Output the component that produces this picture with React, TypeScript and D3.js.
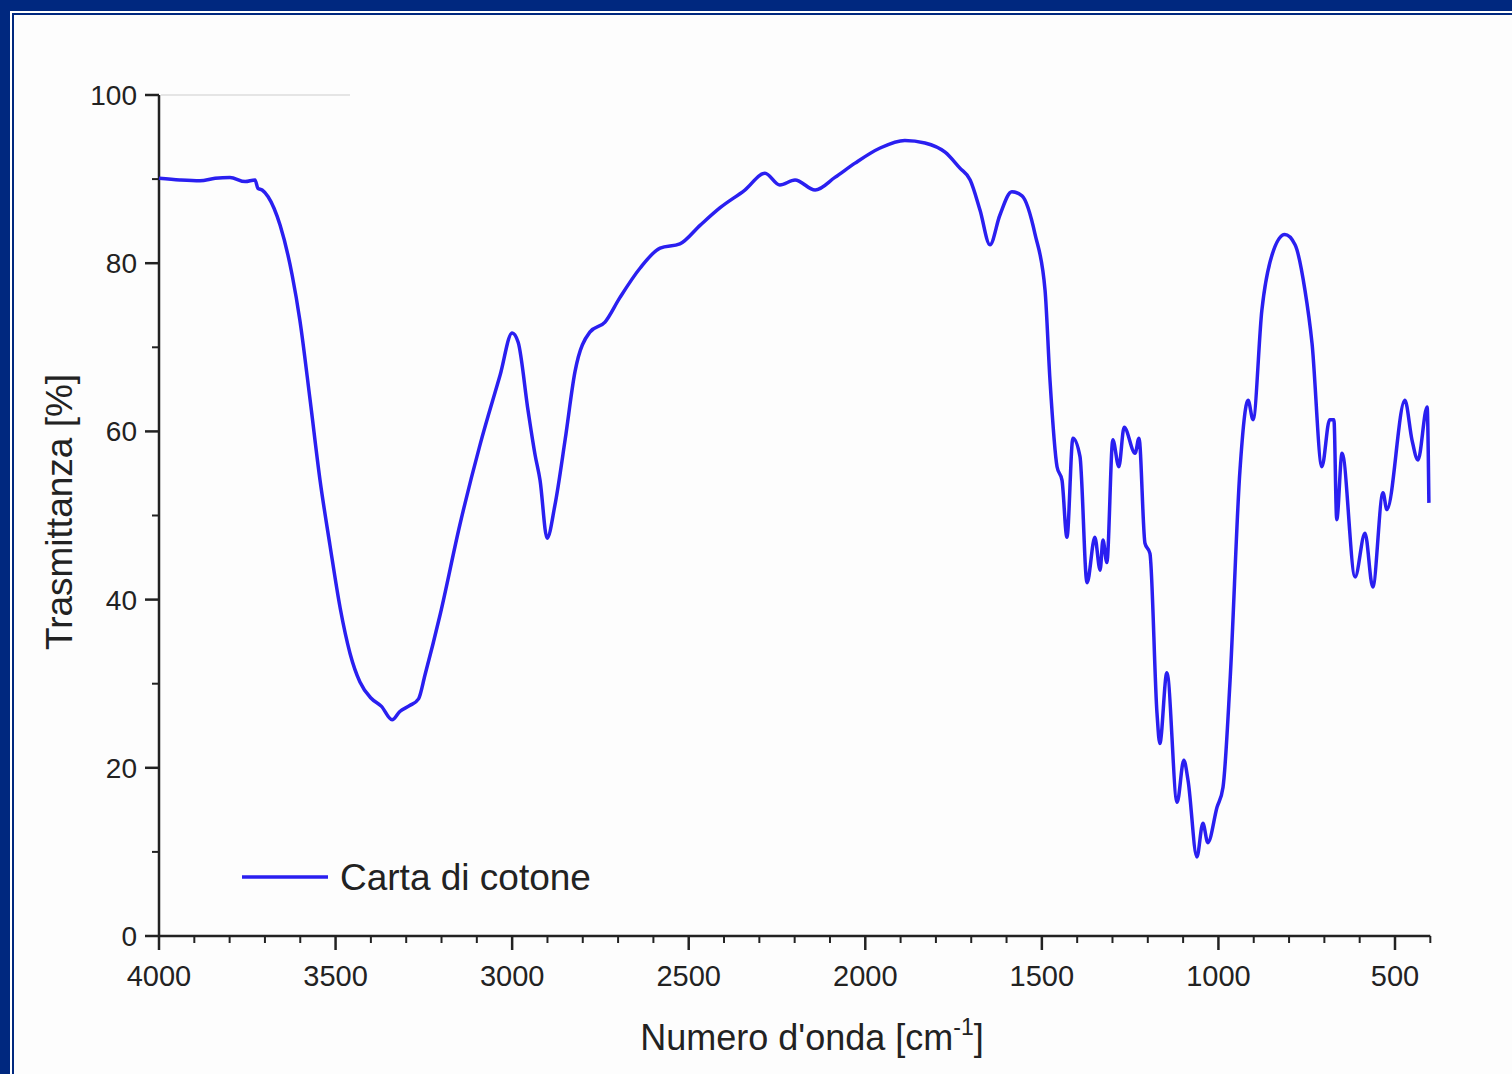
import React from 'react';
import * as d3 from 'd3';

// wavenumber (cm-1) and transmittance (%)
const waveNumbers = [
  4000, 3941, 3884, 3841, 3799, 3756, 3728, 3720, 3708, 3691, 3657, 3623, 3601, 3572, 3544, 3516,
  3487, 3459, 3431, 3400, 3370, 3340, 3318, 3290, 3265, 3247, 3204, 3148, 3091, 3034, 3000, 2983,
  2955, 2935, 2921, 2901, 2879, 2850, 2822, 2780, 2737, 2695, 2638, 2581, 2525, 2468, 2411, 2341,
  2284, 2242, 2199, 2142, 2086, 2029, 1958, 1888, 1831, 1774, 1732, 1703, 1675, 1647, 1619, 1585,
  1556, 1519, 1491, 1477, 1457, 1443, 1429, 1412, 1392, 1372, 1350, 1335, 1327, 1316, 1299, 1282,
  1267, 1236, 1225, 1208, 1194, 1174, 1166, 1146, 1117, 1098, 1086, 1061, 1044, 1030, 1004, 987,
  967, 939, 916, 902, 877, 848, 812, 783, 755, 735, 707, 685, 673, 665, 650, 613,
  585, 563, 534, 523, 472, 452, 435, 409, 404,
];
const transmittance = [
  90.1, 89.9, 89.8, 90.1, 90.2, 89.7, 89.9, 88.9, 88.7, 87.9, 84.5, 78.6, 73.2, 63.7, 54.2, 46.5,
  39.0, 33.6, 30.2, 28.3, 27.3, 25.7, 26.7, 27.4, 28.2, 31.0, 38.2, 48.9, 58.4, 66.7, 71.7, 70.6,
  62.5, 57.2, 54.2, 47.3, 51.2, 59.0, 67.1, 71.8, 73.0, 75.9, 79.4, 81.8, 82.3, 84.5, 86.6, 88.7,
  90.7, 89.3, 89.9, 88.7, 90.2, 91.9, 93.7, 94.6, 94.3, 93.2, 91.3, 89.9, 86.3, 82.2, 85.7, 88.5,
  88.0, 83.4, 76.8, 66.1, 55.8, 54.2, 47.4, 59.2, 57.0, 42.0, 47.4, 43.5, 47.1, 44.4, 59.0, 55.8,
  60.5, 57.4, 59.2, 46.7, 45.5, 26.5, 22.9, 31.3, 15.9, 20.9, 18.5, 9.4, 13.4, 11.1, 15.3, 17.7,
  30.4, 55.4, 63.7, 61.4, 74.4, 81.0, 83.4, 82.2, 76.8, 70.5, 55.8, 61.4, 61.4, 49.5, 57.4, 42.7,
  47.9, 41.5, 52.7, 50.7, 63.7, 59.0, 56.6, 62.9, 51.5,
];
const xTicks = [4000, 3500, 3000, 2500, 2000, 1500, 1000, 500];
const yTicks = [0, 20, 40, 60, 80, 100];
const seriesName = 'Carta di cotone';

const W = 1512;
const H = 1074;
const navy = '#00287f';
const ink = '#222';
const blue = '#2a1ff0';
const font = '"Liberation Sans", Arial, sans-serif';

export default function App() {
  const x = d3.scaleLinear().domain([4000, 500]).range([159, 1395]);
  const y = d3.scaleLinear().domain([0, 100]).range([936, 95]);
  const points = waveNumbers.map((w, i) => [w, transmittance[i]] as [number, number]);
  const line = d3
    .line<[number, number]>()
    .x(d => x(d[0]))
    .y(d => y(d[1]))
    .curve(d3.curveMonotoneX);
  const xMinor = d3.range(4000, 399, -100).filter(v => v % 500 !== 0);
  const yMinor = d3.range(10, 100, 20);

  return (
    <svg width={W} height={H} style={{ position: 'absolute', left: 0, top: 0 }}>
      <rect x={0} y={0} width={W} height={H} fill={navy} />
      <rect x={10} y={11} width={W - 10} height={H - 11} fill="#fff" />
      <rect x={12} y={13} width={W - 12} height={H - 13} fill={navy} />
      <rect x={14} y={15} width={W - 14} height={H - 15} fill="#fdfdfd" />

      <line x1={161} x2={350} y1={y(100)} y2={y(100)} stroke="#ddd" strokeWidth={1.5} />

      {/* y axis */}
      <line x1={x(4000)} x2={x(4000)} y1={y(100)} y2={y(0)} stroke={ink} strokeWidth={2.5} />
      {yTicks.map(t => (
        <g key={t}>
          <line x1={x(4000) - 14} x2={x(4000)} y1={y(t)} y2={y(t)} stroke={ink} strokeWidth={2.5} />
          <text x={x(4000) - 22} y={y(t)} dy="0.36em" textAnchor="end" fontFamily={font} fontSize={28} fill={ink}>{t}</text>
        </g>
      ))}
      {yMinor.map(t => (
        <line key={t} x1={x(4000) - 7} x2={x(4000)} y1={y(t)} y2={y(t)} stroke={ink} strokeWidth={2} />
      ))}

      {/* x axis */}
      <line x1={x(4000)} x2={x(400)} y1={y(0)} y2={y(0)} stroke={ink} strokeWidth={2.5} />
      {xTicks.map(t => (
        <g key={t}>
          <line x1={x(t)} x2={x(t)} y1={y(0)} y2={y(0) + 14} stroke={ink} strokeWidth={2.5} />
          <text x={x(t)} y={y(0) + 50} textAnchor="middle" fontFamily={font} fontSize={29} fill={ink}>{t}</text>
        </g>
      ))}
      {xMinor.map(t => (
        <line key={t} x1={x(t)} x2={x(t)} y1={y(0)} y2={y(0) + 7} stroke={ink} strokeWidth={2} />
      ))}

      <text transform={`translate(72,512) rotate(-90)`} textAnchor="middle" fontFamily={font} fontSize={37} fill={ink}>
        Trasmittanza [%]
      </text>
      <text x={812} y={1050} textAnchor="middle" fontFamily={font} fontSize={36} fill={ink}>
        Numero d'onda [cm<tspan dy={-15} fontSize={23}>-1</tspan><tspan dy={15}>]</tspan>
      </text>

      <path d={line(points) ?? ''} fill="none" stroke={blue} strokeWidth={3.5} strokeLinejoin="round" />

      {/* legend */}
      <line x1={242} x2={328} y1={877} y2={877} stroke={blue} strokeWidth={3.5} />
      <text x={340} y={890} fontFamily={font} fontSize={37} fill={ink}>{seriesName}</text>
    </svg>
  );
}
